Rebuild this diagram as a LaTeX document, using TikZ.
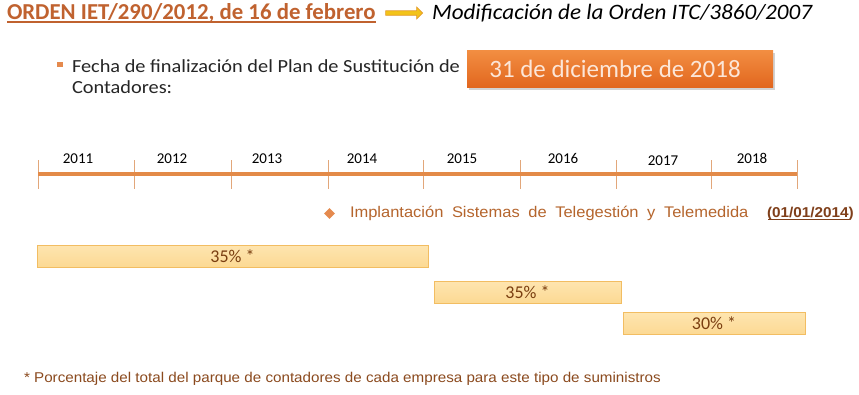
\documentclass[tikz,border=0pt]{standalone}
\usepackage{fontspec}
\setmainfont{Carlito}
\newfontfamily\calS[FakeStretch=1.10]{Carlito}
\newfontfamily\calM[FakeStretch=1.05]{Carlito}
\newfontfamily\arialf[FakeStretch=1.07]{Liberation Sans}
\usetikzlibrary{shapes.geometric,shapes.arrows,shadows}
\definecolor{titlecol}{HTML}{C0622F}
\definecolor{boxtop}{HTML}{F28E42}
\definecolor{boxbot}{HTML}{E2671F}
\definecolor{boxtext}{HTML}{FCE6D8}
\definecolor{linecol}{HTML}{E38A48}
\definecolor{tickcol}{HTML}{E2A77A}
\definecolor{barfill}{HTML}{FCD993}
\definecolor{bartop}{HTML}{FEE5B0}
\definecolor{barline}{HTML}{F2BD62}
\definecolor{bartext}{HTML}{7A3E10}
\definecolor{impcol}{HTML}{B5652D}
\definecolor{datecol}{HTML}{7F3F1A}
\definecolor{notecol}{HTML}{8B4A1E}
\definecolor{arrfill}{HTML}{F3C318}
\definecolor{arrline}{HTML}{E39A2C}
\definecolor{bulcol}{HTML}{E58A4E}
\tikzset{
  txt/.style={inner sep=0pt, outer sep=0pt},
  yearlbl/.style={txt, font=\fontsize{15}{15}\selectfont, text=black},
  bar/.style={draw=barline, line width=0.8pt, top color=bartop, bottom color=barfill, minimum height=22pt, inner sep=0pt, text=bartext, font=\fontsize{18}{18}\selectfont},
  tick/.style={draw=tickcol, line width=0.7pt},
}
\begin{document}
\begin{tikzpicture}[x=1pt,y=-1pt]
\useasboundingbox (0,0) rectangle (859,394);
\fill[white] (0,0) rectangle (859,394);

% title line
\node[txt, anchor=base west, text=titlecol, font=\bfseries\fontsize{22.8}{23}\selectfont] (title) at (7,19.5) {ORDEN IET/290/2012, de 16 de febrero};
\draw[titlecol, line width=1.3pt] ([yshift=-2.6pt]title.base west) -- ([yshift=-2.6pt]title.base east);
\node[txt, anchor=base west, font=\calM\itshape\fontsize{22}{22}\selectfont] (mod) at (432,19.5) {Modificación de la Orden ITC/3860/2007};
\node[single arrow, draw=arrline, fill=arrfill, line width=0.6pt, minimum height=37pt, minimum width=12pt, single arrow head extend=3pt, inner sep=1.5pt, single arrow head indent=0pt] (arr) at (403,13) {};

% bullet line
\node[fill=bulcol, minimum size=5.5pt, inner sep=0pt] (bul) at (60,64.5) {};
\node[txt, anchor=base west, text=black!85, font=\calS\fontsize{18.5}{18}\selectfont] (fecha) at (72,72) {Fecha de finalización del Plan de Sustitución de};
\node[txt, anchor=base west, text=black!85, font=\calS\fontsize{18.5}{18}\selectfont] (cont) at (72,93) {Contadores:};
\node[minimum width=306pt, minimum height=37pt, inner sep=0pt, top color=boxtop, bottom color=boxbot,
      drop shadow={shadow xshift=1.5pt, shadow yshift=-2.5pt, opacity=0.35}] (box) at (620,68.5) {};
\node[txt, anchor=base, text=boxtext, font=\fontsize{25}{25}\selectfont] (boxt) at (615,77) {31 de diciembre de 2018};

% timeline
\foreach \i/\x in {0/38,1/134,2/231,3/328,4/423,5/520,6/616,7/711,8/797}{
  \coordinate (t\i) at (\x,174);
  \draw[tick] (\x,160) -- (\x,189);
}
\draw[linecol, line width=3.5pt] (t0) -- (t8);
\node[yearlbl, anchor=base] (y11) at (78,163.5) {2011};
\node[yearlbl, anchor=base] (y12) at (172,163.5) {2012};
\node[yearlbl, anchor=base] (y13) at (267,163.5) {2013};
\node[yearlbl, anchor=base] (y14) at (362,163.5) {2014};
\node[yearlbl, anchor=base] (y15) at (462,163.5) {2015};
\node[yearlbl, anchor=base] (y16) at (563,163.5) {2016};
\node[yearlbl, anchor=base] (y17) at (663,165.5) {2017};
\node[yearlbl, anchor=base] (y18) at (752,163.5) {2018};

% implantacion
\node[diamond, fill=bulcol, minimum size=11pt, inner sep=0pt] (dia) at (329.5,213.5) {};
\node[txt, anchor=base west, text=impcol, font=\arialf\fontsize{15.4}{15}\selectfont] (imp) at (350,217.5)
  {\spaceskip=8.6pt plus 0pt minus 0pt Implantación Sistemas de Telegestión y Telemedida};
\node[txt, anchor=base west, text=datecol, font=\arialf\bfseries\fontsize{14.3}{14}\selectfont] (date) at (767,217.5) {(01/01/2014)};
\draw[datecol, line width=0.9pt] ([yshift=-2.2pt,xshift=1pt]date.base west) -- ([yshift=-2.2pt,xshift=-5pt]date.base east);

% bars
\node[bar, minimum width=391pt] (b1) at (232.5,256) {35\% *};
\node[bar, minimum width=187pt] (b2) at (527.5,292) {35\% *};
\node[bar, minimum width=182pt] (b3) at (714,323.5) {30\% *};

% footnote
\node[txt, anchor=base west, text=notecol, font=\arialf\fontsize{14.2}{14}\selectfont] (note) at (24,382)
  {* Porcentaje del total del parque de contadores de cada empresa para este tipo de suministros};
\end{tikzpicture}
\end{document}
